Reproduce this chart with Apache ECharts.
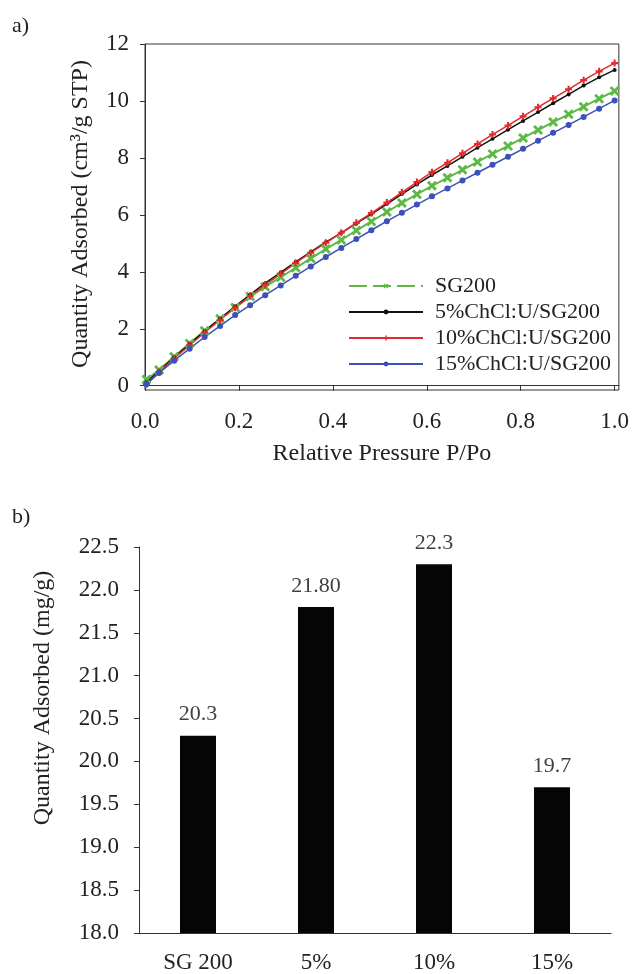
<!DOCTYPE html>
<html>
<head>
<meta charset="utf-8">
<script src="https://cdn.jsdelivr.net/npm/echarts@6/dist/echarts.min.js"></script>
<style>
  html, body { margin: 0; padding: 0; background: #fff; }
  #chart { width: 632px; height: 974px; }
</style>
</head>
<body>
<div id="chart"></div>
<script>
// panel a) isotherms
var pressure = [0.003, 0.030, 0.062, 0.095, 0.127, 0.160, 0.192, 0.224, 0.256, 0.289, 0.321,
  0.353, 0.385, 0.418, 0.450, 0.482, 0.515, 0.547, 0.579, 0.611, 0.644, 0.676, 0.708, 0.740,
  0.773, 0.805, 0.837, 0.869, 0.902, 0.934, 0.967, 1.000];
var sg200 = [0.22, 0.55, 1.02, 1.48, 1.93, 2.35, 2.75, 3.13, 3.48, 3.81, 4.14, 4.47, 4.80, 5.12,
  5.45, 5.77, 6.10, 6.42, 6.72, 7.02, 7.30, 7.58, 7.86, 8.14, 8.42, 8.70, 8.98, 9.26, 9.53, 9.80,
  10.08, 10.35];
var chcl5 = [0.12, 0.52, 1.00, 1.47, 1.92, 2.36, 2.79, 3.20, 3.60, 3.98, 4.35, 4.70, 5.04, 5.37,
  5.70, 6.03, 6.38, 6.73, 7.07, 7.40, 7.72, 8.04, 8.36, 8.67, 8.99, 9.30, 9.61, 9.92, 10.23, 10.54,
  10.83, 11.09];
var chcl10 = [0.05, 0.48, 0.96, 1.42, 1.87, 2.31, 2.74, 3.15, 3.54, 3.93, 4.31, 4.67, 5.02, 5.37,
  5.72, 6.06, 6.43, 6.79, 7.15, 7.50, 7.83, 8.16, 8.49, 8.82, 9.14, 9.46, 9.78, 10.09, 10.41, 10.73,
  11.04, 11.33];
var chcl15 = [0.05, 0.45, 0.88, 1.30, 1.71, 2.10, 2.48, 2.83, 3.18, 3.52, 3.86, 4.19, 4.52, 4.84,
  5.15, 5.46, 5.78, 6.07, 6.36, 6.65, 6.93, 7.21, 7.48, 7.76, 8.04, 8.32, 8.60, 8.88, 9.16, 9.44,
  9.73, 10.02];
var seriesNames = ['SG200', '5%ChCl:U/SG200', '10%ChCl:U/SG200', '15%ChCl:U/SG200'];
var xTicks = [0, 0.2, 0.4, 0.6, 0.8, 1.0];
var yTicks = [0, 2, 4, 6, 8, 10, 12];

// panel b) bars
var categories = ['SG 200', '5%', '10%', '15%'];
var adsorbed = [20.3, 21.8, 22.3, 19.7];
var barLabels = ['20.3', '21.80', '22.3', '19.7'];

var font = 'Liberation Serif';
var ink = '#222';

function pairs(ys) {
  return pressure.map(function (p, i) { return [p, ys[i]]; });
}

var crossPath = 'path://M0,2 L2,0 L5,3 L8,0 L10,2 L7,5 L10,8 L8,10 L5,7 L2,10 L0,8 L3,5 Z';
var plusPath = 'path://M3.5,0 H6.5 V3.5 H10 V6.5 H6.5 V10 H3.5 V6.5 H0 V3.5 H3.5 Z';

var chart = echarts.init(document.getElementById('chart'));
chart.setOption({
  animation: false,
  textStyle: { fontFamily: font },
  graphic: [
    { type: 'text', left: 12, top: 15, style: { text: 'a)', font: '22px "Liberation Serif"', fill: ink } },
    { type: 'text', left: 12, top: 506, style: { text: 'b)', font: '22px "Liberation Serif"', fill: ink } }
  ],
  grid: [
    { left: 145, top: 44, right: 11, height: 346, show: true, borderColor: '#333', borderWidth: 1 },
    { left: 139, top: 547, right: 21, bottom: 41 }
  ],
  legend: {
    orient: 'vertical',
    left: 343,
    top: 270,
    itemWidth: 74,
    itemHeight: 6,
    itemGap: 4,
    textStyle: { fontFamily: font, fontSize: 22, color: ink, padding: [0, 0, 0, 7] },
    data: [
      { name: seriesNames[0], lineStyle: { type: [18, 6] } },
      { name: seriesNames[1] },
      { name: seriesNames[2] },
      { name: seriesNames[3] }
    ]
  },
  xAxis: [
    {
      type: 'value', gridIndex: 0, min: 0, max: 1.009,
      name: 'Relative Pressure P/Po', nameLocation: 'middle', nameGap: 52,
      nameTextStyle: { fontFamily: font, fontSize: 24, color: ink },
      axisLine: { show: true, lineStyle: { color: '#333', width: 1 } },
      axisTick: { show: true, length: 5, customValues: xTicks, lineStyle: { color: '#333' } },
      axisLabel: {
        customValues: xTicks, margin: 20, fontFamily: font, fontSize: 23, color: ink,
        formatter: function (v) { return v.toFixed(1); }
      },
      splitLine: { show: false }
    },
    {
      type: 'category', gridIndex: 1, data: categories,
      axisLine: { lineStyle: { color: '#333', width: 1 } },
      axisTick: { show: false },
      axisLabel: { margin: 18, fontFamily: font, fontSize: 23, color: ink }
    }
  ],
  yAxis: [
    {
      type: 'value', gridIndex: 0, min: -0.15, max: 12,
      name: 'Quantity Adsorbed (cm³/g STP)', nameLocation: 'middle', nameGap: 52,
      nameTextStyle: { fontFamily: font, fontSize: 24, color: ink, padding: [0, 0, 0, 6] },
      axisLine: { show: true, lineStyle: { color: '#333', width: 1 } },
      axisTick: { show: true, length: 5, customValues: yTicks, lineStyle: { color: '#333' } },
      axisLabel: { customValues: yTicks, margin: 16, fontFamily: font, fontSize: 23, color: ink },
      splitLine: { show: false }
    },
    {
      type: 'value', gridIndex: 1, min: 18, max: 22.5, interval: 0.5,
      name: 'Quantity Adsorbed (mg/g)', nameLocation: 'middle', nameGap: 84,
      nameTextStyle: { fontFamily: font, fontSize: 24, color: ink, padding: [0, 0, 0, 84] },
      axisLine: { show: true, lineStyle: { color: '#333', width: 1 } },
      axisTick: { show: true, length: 5, lineStyle: { color: '#333' } },
      axisLabel: {
        margin: 20, fontFamily: font, fontSize: 23, color: ink,
        formatter: function (v) { return v.toFixed(1); }
      },
      splitLine: { show: false }
    }
  ],
  series: [
    {
      name: seriesNames[0], type: 'line', xAxisIndex: 0, yAxisIndex: 0,
      data: pairs(sg200), symbol: crossPath, symbolSize: 10,
      itemStyle: { color: '#5cb946' }, lineStyle: { color: '#5cb946', width: 2 }
    },
    {
      name: seriesNames[1], type: 'line', xAxisIndex: 0, yAxisIndex: 0,
      data: pairs(chcl5), symbol: 'circle', symbolSize: 4,
      itemStyle: { color: '#111' }, lineStyle: { color: '#111', width: 1.5 }
    },
    {
      name: seriesNames[2], type: 'line', xAxisIndex: 0, yAxisIndex: 0,
      data: pairs(chcl10), symbol: plusPath, symbolSize: 7,
      itemStyle: { color: '#e42a2c' }, lineStyle: { color: '#e42a2c', width: 1.5 }
    },
    {
      name: seriesNames[3], type: 'line', xAxisIndex: 0, yAxisIndex: 0,
      data: pairs(chcl15), symbol: 'circle', symbolSize: 6,
      itemStyle: { color: '#3b50b8' }, lineStyle: { color: '#3b50b8', width: 1.5 }
    },
    {
      type: 'bar', xAxisIndex: 1, yAxisIndex: 1,
      data: adsorbed, barWidth: 36,
      itemStyle: { color: '#050505' },
      label: {
        show: true, position: 'top', distance: 10,
        fontFamily: font, fontSize: 22, color: '#404040',
        formatter: function (p) { return barLabels[p.dataIndex]; }
      }
    }
  ]
});
</script>
</body>
</html>
